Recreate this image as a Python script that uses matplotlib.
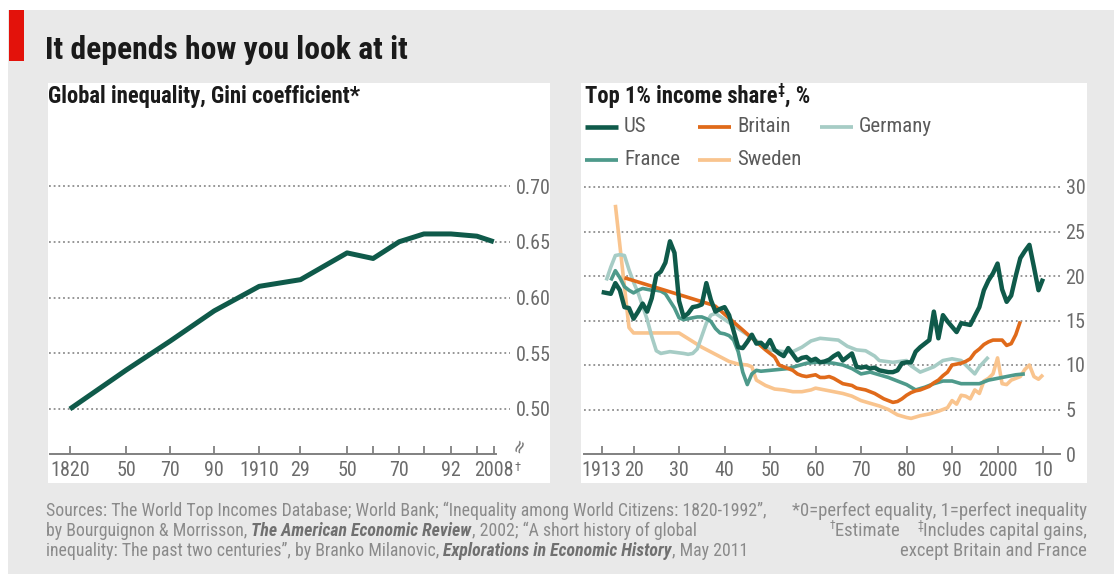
import os
import numpy as np
import matplotlib
matplotlib.use('Agg')
import matplotlib.pyplot as plt
from matplotlib import font_manager
from matplotlib.patches import Rectangle
from matplotlib.lines import Line2D

# ---------------- data ----------------
GINI_YEARS = [1820, 1850, 1870, 1890, 1910, 1929, 1950, 1960, 1970, 1980, 1992, 2000, 2008]
GINI_VALUES = [0.500, 0.535, 0.561, 0.588, 0.610, 0.616, 0.640, 0.635, 0.650, 0.657, 0.657, 0.655, 0.650]
GINI_TICK_LABELS = ['1820', '50', '70', '90', '1910', '29', '50', '', '70', '', '92', '', '2008']
GINI_YTICKS = [0.50, 0.55, 0.60, 0.65, 0.70]
GINI_YLABELS = ['0.50', '0.55', '0.60', '0.65', '0.70']

US_YEARS = list(range(1913, 2011))
US_VALUES = [18.2, 18.1, 18.0, 19.2, 18.4, 16.5, 16.4, 15.2, 16.0, 16.9,
             16.0, 17.5, 20.1, 20.5, 21.5, 23.9, 22.6, 17.2, 15.4, 15.8,
             16.5, 16.6, 16.8, 19.2, 17.3, 16.0, 16.3, 16.5, 15.6, 13.8,
             12.0, 11.9, 12.6, 13.4, 12.4, 12.5, 12.0, 12.8, 11.7, 11.3,
             11.0, 11.9, 11.2, 10.5, 10.8, 10.9, 10.5, 10.7, 10.3, 10.4,
             10.6, 11.0, 11.3, 10.5, 10.9, 11.3, 9.8, 9.7, 9.8, 9.6,
             9.7, 9.4, 9.3, 9.2, 9.2, 9.4, 10.2, 10.3, 10.3, 11.5,
             12.0, 12.4, 12.8, 16.0, 13.0, 15.6, 14.9, 14.3, 13.7, 14.7,
             14.6, 14.5, 15.5, 16.5, 18.4, 19.5, 20.3, 21.4, 18.5, 17.1,
             17.8, 20.0, 22.0, 22.8, 23.5, 21.0, 18.4, 19.7]

BRITAIN_YEARS = [1918, 1937, 1938, 1949, 1950, 1951, 1952, 1953, 1954, 1955, 1956, 1957,
                 1958, 1959, 1960, 1961, 1962, 1963, 1964, 1965, 1966, 1967, 1968, 1969,
                 1970, 1971, 1972, 1973, 1974, 1975, 1976, 1977, 1978, 1979, 1980, 1981,
                 1982, 1983, 1984, 1985, 1986, 1987, 1988, 1989, 1990, 1991, 1992, 1993,
                 1994, 1995, 1996, 1997, 1998, 1999, 2000, 2001, 2002, 2003, 2004, 2005]
BRITAIN_VALUES = [19.8, 16.8, 16.6, 11.7, 11.3, 10.9, 10.0, 9.8, 9.6, 9.4, 9.0, 8.8,
                  8.7, 8.8, 8.9, 8.6, 8.6, 8.7, 8.5, 8.2, 7.9, 7.8, 7.7, 7.4,
                  7.3, 7.2, 7.0, 6.8, 6.5, 6.2, 6.0, 5.8, 5.9, 6.2, 6.6, 6.9,
                  7.1, 7.2, 7.4, 7.6, 8.0, 8.3, 8.8, 9.2, 10.0, 10.1, 10.2, 10.4,
                  10.7, 11.4, 11.8, 12.3, 12.6, 12.8, 12.8, 12.8, 12.2, 12.4, 13.4, 14.9]

GERMANY_YEARS = [1914, 1915, 1916, 1917, 1918, 1919, 1920, 1921, 1922, 1923, 1924, 1925,
                 1926, 1928, 1931, 1932, 1933, 1934, 1936, 1937, 1938, 1950, 1953, 1955,
                 1957, 1959, 1961, 1963, 1965, 1967, 1969, 1971, 1973, 1974, 1977, 1980,
                 1981, 1983, 1986, 1988, 1990, 1992, 1995, 1996, 1998]
GERMANY_VALUES = [19.5, 21.0, 22.3, 22.4, 22.3, 20.7, 19.3, 18.1, 16.6, 15.1, 13.2, 11.6,
                  11.3, 11.5, 11.3, 11.2, 11.3, 11.8, 14.7, 15.6, 15.8, 11.7, 11.5, 11.5,
                  12.0, 12.7, 13.0, 12.9, 12.8, 12.1, 11.7, 11.6, 11.0, 10.5, 10.3, 10.5,
                  9.9, 9.2, 9.8, 10.5, 10.7, 10.5, 9.0, 9.8, 10.9]

FRANCE_YEARS = [1915, 1916, 1917, 1918, 1919, 1920, 1921, 1922, 1923, 1924, 1925, 1926,
                1927, 1928, 1929, 1930, 1931, 1932, 1933, 1934, 1935, 1936, 1937, 1938,
                1939, 1940, 1941, 1942, 1943, 1944, 1945, 1946, 1947, 1948, 1950, 1952,
                1954, 1956, 1958, 1960, 1962, 1964, 1966, 1968, 1970, 1972, 1974, 1976,
                1978, 1980, 1982, 1984, 1986, 1988, 1990, 1992, 1994, 1996, 1998, 2000,
                2002, 2004, 2006]
FRANCE_VALUES = [19.5, 20.6, 19.8, 18.8, 18.4, 18.1, 18.4, 18.6, 18.5, 18.4, 18.4, 18.3,
                 18.0, 17.2, 16.4, 15.3, 15.1, 15.2, 15.3, 15.4, 15.4, 15.2, 14.9, 14.1,
                 13.6, 13.5, 13.3, 12.8, 11.5, 9.2, 7.8, 9.0, 9.4, 9.3, 9.4, 9.5,
                 9.6, 9.9, 10.2, 10.3, 10.3, 10.2, 10.0, 9.6, 9.0, 9.2, 8.9, 8.6,
                 8.2, 7.8, 7.2, 7.5, 7.9, 8.2, 8.2, 7.9, 7.9, 7.9, 8.3, 8.5,
                 8.7, 8.9, 9.0]

SWEDEN_YEARS = [1916, 1919, 1920, 1930, 1935, 1941, 1943, 1945, 1946, 1947, 1948, 1949,
                1950, 1951, 1953, 1955, 1957, 1959, 1960, 1962, 1964, 1966, 1968, 1970,
                1972, 1974, 1976, 1978, 1980, 1981, 1983, 1985, 1987, 1989, 1990, 1991,
                1992, 1993, 1994, 1995, 1996, 1997, 1998, 1999, 2000, 2001, 2002, 2003,
                2004, 2005, 2006, 2007, 2008, 2009, 2010]
SWEDEN_VALUES = [28.0, 14.2, 13.6, 13.6, 12.0, 10.4, 10.1, 10.0, 9.8, 8.3, 8.0, 7.7,
                 7.5, 7.3, 7.2, 7.0, 7.0, 7.2, 7.4, 7.2, 7.0, 6.8, 6.5, 6.0,
                 5.7, 5.4, 5.0, 4.4, 4.1, 4.0, 4.3, 4.5, 4.8, 5.2, 6.0, 5.6,
                 6.6, 6.5, 6.2, 7.2, 6.8, 8.2, 8.5, 9.0, 10.8, 7.9, 7.8, 8.3,
                 8.5, 8.7, 9.5, 10.0, 8.7, 8.4, 8.9]

TOP_TICK_YEARS = [1913, 1920, 1930, 1940, 1950, 1960, 1970, 1980, 1990, 2000, 2010]
TOP_TICK_LABELS = ['1913', '20', '30', '40', '50', '60', '70', '80', '90', '2000', '10']
TOP_YTICKS = [0, 5, 10, 15, 20, 25, 30]
TOP_YLABELS = ['0', '5', '10', '15', '20', '25', '30']

SERIES_NAMES = ['US', 'Britain', 'Germany', 'France', 'Sweden']

# ---------------- fonts ----------------
W, H = 1114, 574


def pick_font():
    entries = font_manager.fontManager.ttflist
    names = {f.name for f in entries}
    for n in ['Liberation Sans Narrow', 'Roboto Condensed', 'Open Sans Condensed',
              'Noto Sans Condensed', 'DejaVu Sans Condensed']:
        if n in names:
            return n, 'normal'
    for n in ['Noto Sans', 'Roboto', 'Open Sans', 'DejaVu Sans']:
        for f in entries:
            base = os.path.basename(f.fname)
            if f.name == n and 'Condensed' in base and 'Extra' not in base \
                    and 'Semi' not in base and 'Ultra' not in base:
                return n, 'condensed'
    return 'Liberation Sans', 'normal'


FONT, STRETCH = pick_font()
plt.rcParams['font.family'] = [FONT, 'DejaVu Sans']
plt.rcParams['font.stretch'] = STRETCH

C_US = '#0f5a4a'
C_BR = '#e06a1a'
C_DE = '#a6ccc5'
C_FR = '#4e9a8b'
C_SE = '#f9c48e'
C_BG = '#e9e9e9'
C_GRID = '#8e8e8e'
C_TICK = '#6b6b6b'
C_AX = '#808080'


def fx(x):
    return x / W


def fy(y):
    return 1 - y / H


fig = plt.figure(figsize=(W / 100, H / 100), dpi=100)
fig.patch.set_facecolor('white')
renderer = fig.canvas.get_renderer()


def width_of(s, size, **kw):
    t = fig.text(0, 0, s, fontsize=size, **kw)
    w = t.get_window_extent(renderer).width
    t.remove()
    return w


def fit_size(s, target, base, cap=None, **kw):
    size = base * target / width_of(s, base, **kw)
    return min(size, cap) if cap else size


def seg_line(x_px, y_px, segs, size, ha='left', **common):
    """Draw a line of text made of differently styled pieces.
    A piece whose style has 'sup': True is drawn smaller and raised."""
    texts, widths = [], []
    for s, st in segs:
        kw = dict(common)
        st = dict(st)
        sup = st.pop('sup', False)
        kw.update(st)
        fs = size * 0.62 if sup else size
        t = fig.text(0, 0, s, va='baseline', ha='left', fontsize=fs, **kw)
        widths.append(t.get_window_extent(renderer).width)
        texts.append((t, sup))
    x = x_px if ha == 'left' else x_px - sum(widths)
    for (t, sup), w in zip(texts, widths):
        dy = size * 1.389 * 0.38 if sup else 0
        t.set_position((fx(x), fy(y_px - dy)))
        x += w


SUP = {'sup': True}

# background pieces
fig.patches.append(Rectangle((fx(8), 0), 1 - fx(8), fy(10), transform=fig.transFigure,
                             facecolor=C_BG, edgecolor='none', zorder=-10))
fig.patches.append(Rectangle((fx(9), fy(61)), fx(24) - fx(9), fy(10) - fy(61),
                             transform=fig.transFigure, facecolor='#e3120b', edgecolor='none', zorder=-9))
fig.patches.append(Rectangle((fx(48), fy(483)), fx(550) - fx(48), fy(83) - fy(483),
                             transform=fig.transFigure, facecolor='white', edgecolor='none', zorder=-9))
fig.patches.append(Rectangle((fx(581), fy(483)), fx(1087) - fx(581), fy(83) - fy(483),
                             transform=fig.transFigure, facecolor='white', edgecolor='none', zorder=-9))

# titles
TITLE = 'It depends how you look at it'
t_size = fit_size(TITLE, 362, 22, cap=25, fontweight='bold')
fig.text(fx(45), fy(59), TITLE, fontsize=t_size, fontweight='bold',
         color='#1a1a1a', va='baseline', ha='left')
SUB_L = 'Global inequality, Gini coefficient*'
s_size = fit_size(SUB_L, 338, 15, cap=16.3, fontweight='bold')
fig.text(fx(48), fy(103), SUB_L, fontsize=s_size, fontweight='bold',
         color='#1a1a1a', va='baseline', ha='left')
seg_line(585, 103, [('Top 1% income share', {}), ('\u2021', SUP), (', %', {})], s_size,
         fontweight='bold', color='#1a1a1a')

LAB = fit_size('0.70', 35, 15, cap=15.5)

AX_BOTTOM, AX_TOP = 454, 175

# ---------------- left chart ----------------
KNOT_YEARS = [1700] + GINI_YEARS + [2100]
KNOT_PX = [69.9 - 120 * 56.4 / 30, 69.9, 126.3, 170.3, 214.2, 259.2, 300.5, 347.1, 373.1,
           399.2, 423.9, 450.9, 476.9, 493.8, 493.8 + 92 * 16.9 / 8]


def fwd(x):
    return np.interp(x, KNOT_YEARS, KNOT_PX)


def inv(u):
    return np.interp(u, KNOT_PX, KNOT_YEARS)


axL = fig.add_axes([fx(49), fy(AX_BOTTOM), fx(510) - fx(49), fy(AX_TOP) - fy(AX_BOTTOM)])
axL.set_facecolor('none')
axL.set_xscale('function', functions=(fwd, inv))
axL.set_xlim(inv(49), inv(510))
g_per_px = 0.05 / 55.75
axL.set_ylim(0.50 - (AX_BOTTOM - 409) * g_per_px, 0.50 + (409 - AX_TOP) * g_per_px)
axL.plot(GINI_YEARS, GINI_VALUES, color=C_US, lw=3.6, solid_capstyle='butt',
         solid_joinstyle='round', zorder=5, clip_on=False)
for v in GINI_YTICKS:
    axL.axhline(v, color=C_GRID, lw=1.3, ls=(0, (1, 1.6)), zorder=1)
axL.set_yticks(GINI_YTICKS)
axL.set_yticklabels(GINI_YLABELS)
axL.set_xticks(GINI_YEARS)
axL.set_xticklabels(GINI_TICK_LABELS)
axL.xaxis.set_minor_locator(matplotlib.ticker.NullLocator())

# ---------------- right chart ----------------
PX_PER_YEAR = 4.55
axR = fig.add_axes([fx(584), fy(AX_BOTTOM), fx(1060) - fx(584), fy(AX_TOP) - fy(AX_BOTTOM)])
axR.set_facecolor('none')
axR.set_xlim(1913 + (584 - 601.7) / PX_PER_YEAR, 1913 + (1060 - 601.7) / PX_PER_YEAR)
axR.set_ylim(0, (AX_BOTTOM - AX_TOP) / 8.9)
for v in TOP_YTICKS[1:]:
    axR.axhline(v, color=C_GRID, lw=1.3, ls=(0, (1, 1.6)), zorder=1)
series = [
    (SWEDEN_YEARS, SWEDEN_VALUES, C_SE, 2.6, 2),
    (GERMANY_YEARS, GERMANY_VALUES, C_DE, 2.6, 3),
    (FRANCE_YEARS, FRANCE_VALUES, C_FR, 2.6, 4),
    (BRITAIN_YEARS, BRITAIN_VALUES, C_BR, 2.6, 5),
    (US_YEARS, US_VALUES, C_US, 3.2, 6),
]
for xs, ys, c, lw, z in series:
    axR.plot(xs, ys, color=c, lw=lw, solid_joinstyle='round', solid_capstyle='butt', zorder=z)
axR.set_yticks(TOP_YTICKS)
axR.set_yticklabels(TOP_YLABELS)
axR.set_xticks(TOP_TICK_YEARS)
axR.set_xticklabels(TOP_TICK_LABELS)

for ax in (axL, axR):
    for s in ('left', 'right', 'top'):
        ax.spines[s].set_visible(False)
    ax.spines['bottom'].set_color(C_AX)
    ax.spines['bottom'].set_linewidth(1.4)
    ax.yaxis.tick_right()
    ax.tick_params(axis='y', length=0, pad=4, labelsize=LAB, labelcolor=C_TICK)
    ax.tick_params(axis='x', direction='in', length=5.5, width=1.3, color=C_AX, pad=5,
                   labelsize=LAB, labelcolor=C_TICK)
axL.spines['bottom'].set_bounds(inv(50), inv(496))

# dagger after the last left tick label
fig.canvas.draw()
lab = axL.get_xticklabels()[-1]
bb = lab.get_window_extent(renderer)
fig.text(bb.x1 / W + 0.5 / W, bb.y1 / H, '\u2020', fontsize=LAB * 0.62, color=C_TICK,
         ha='left', va='top')

# axis-break mark
fig.text(fx(520), fy(446), '\u2248', fontsize=13, color='#707070', rotation=65,
         ha='center', va='center', family='DejaVu Sans')

# ---------------- legend ----------------
LEG_SIZE = LAB * 1.04
LEG = [('US', C_US, 3.3, 585, 127), ('Britain', C_BR, 2.7, 698, 127),
       ('Germany', C_DE, 2.7, 820, 127), ('France', C_FR, 2.7, 585, 160),
       ('Sweden', C_SE, 2.7, 698, 160)]
for name, c, lw, x0, y0 in LEG:
    fig.add_artist(Line2D([fx(x0), fx(x0 + 33)], [fy(y0), fy(y0)], transform=fig.transFigure,
                          color=c, lw=lw, solid_capstyle='butt'))
    fig.text(fx(x0 + 39), fy(y0), name, fontsize=LEG_SIZE, color='#5a5a5a', va='center', ha='left')

# ---------------- footer ----------------
FOOT_L1 = 'Sources: The World Top Incomes Database; World Bank; \u201cInequality among World Citizens: 1820-1992\u201d,'
FOOT_R1 = '*0=perfect equality, 1=perfect inequality'
f_size = fit_size(FOOT_L1, 718, 12, cap=13)
fr_size = fit_size(FOOT_R1, 294, 12, cap=13.5)
FOOT = dict(color='#8a8a8a')
BI = dict(fontweight='bold', fontstyle='italic', color='#707070')

seg_line(46, 516, [(FOOT_L1, {})], f_size, **FOOT)
seg_line(46, 536, [('by Bourguignon & Morrisson, ', {}), ('The American Economic Review', BI),
                   (', 2002; \u201cA short history of global', {})], f_size, **FOOT)
seg_line(46, 556, [('inequality: The past two centuries\u201d, by Branko Milanovic, ', {}),
                   ('Explorations in Economic History', BI), (', May 2011', {})], f_size, **FOOT)
seg_line(1087, 516, [(FOOT_R1, {})], fr_size, ha='right', **FOOT)
seg_line(1087, 536, [('\u2020', SUP), ('Estimate    ', {}), ('\u2021', SUP),
                     ('Includes capital gains,', {})], fr_size, ha='right', **FOOT)
seg_line(1087, 556, [('except Britain and France', {})], fr_size, ha='right', **FOOT)

fig.savefig('out.png', dpi=100, facecolor=fig.get_facecolor())
